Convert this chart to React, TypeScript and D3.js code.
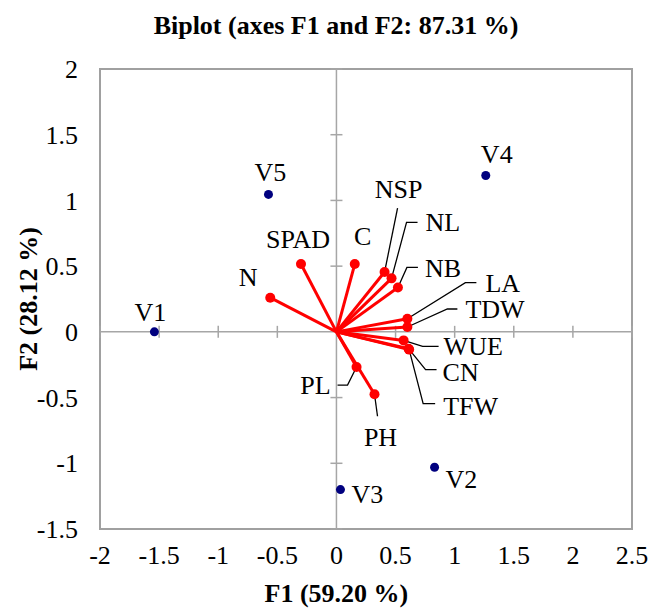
import * as d3 from "d3";

const W = 649;
const H = 608;
const FONT = "'Liberation Serif', 'Times New Roman', serif";

// observations (navy dots)
const obsNames = ["V1", "V2", "V3", "V4", "V5"];
const obsF1 = [-1.54, 0.83, 0.034, 1.263, -0.575];
const obsF2 = [0.0, -1.03, -1.2, 1.19, 1.046];
// label offset (px) from the dot: [dx, dy, anchor]
const obsLabel: [number, number, string][] = [
  [-4, -20, "middle"],
  [11, 12, "start"],
  [11, 4, "start"],
  [11, -22, "middle"],
  [2, -22, "middle"],
];

// variables (red vectors)
const varNames = ["N", "SPAD", "C", "NSP", "NL", "NB", "LA", "TDW", "WUE", "CN", "TFW", "PL", "PH"];
const varF1 = [-0.56, -0.3, 0.155, 0.407, 0.466, 0.52, 0.6, 0.6, 0.568, 0.61, 0.615, 0.17, 0.322];
const varF2 = [0.26, 0.516, 0.516, 0.455, 0.407, 0.338, 0.1, 0.037, -0.065, -0.128, -0.135, -0.268, -0.475];
// leader line points as px offsets from the dot, then label offset + anchor
const varLeader: [number, number][][] = [
  [],
  [],
  [],
  [[13, -64]],
  [[15, -56], [26, -56]],
  [[9, -20], [20, -20]],
  [[58, -36], [69, -36]],
  [[40, -18], [50, -18]],
  [[19, 6], [35, 6]],
  [[17, 21], [28, 21]],
  [[14, 54], [26, 54]],
  [[-9, 18], [-19, 18]],
  [[3, 22]],
];
const varLabel: [number, number, string][] = [
  [-22, -21, "middle"],
  [-3, -25, "middle"],
  [8, -28, "middle"],
  [14, -83, "middle"],
  [34, -56, "start"],
  [27, -20, "start"],
  [78, -36, "start"],
  [58, -18, "start"],
  [40, 5, "start"],
  [34, 23, "start"],
  [34, 56, "start"],
  [-26, 18, "end"],
  [6, 43, "middle"],
];

const xTicks = [-2, -1.5, -1, -0.5, 0, 0.5, 1, 1.5, 2, 2.5];
const yTicks = [-1.5, -1, -0.5, 0, 0.5, 1, 1.5, 2];

export default function App() {
  const x = d3.scaleLinear().domain([-2, 2.5]).range([100, 632]);
  const y = d3.scaleLinear().domain([-1.5, 2]).range([529, 69]);
  const x0 = x(0);
  const y0 = y(0);
  const axisColor = "#a6a6a6";

  return (
    <svg width={W} height={H} style={{ position: "absolute", left: 0, top: 0, background: "#fff" }} fontFamily={FONT}>
      <rect width={W} height={H} fill="#fff" />
      <text x={336} y={34} textAnchor="middle" fontSize={26} fontWeight="bold">
        Biplot (axes F1 and F2: 87.31 %)
      </text>

      {/* frame */}
      <rect x={x(-2)} y={y(2)} width={x(2.5) - x(-2)} height={y(-1.5) - y(2)} fill="none" stroke="#a0a0a0" strokeWidth={2} />

      {/* zero axes */}
      <line x1={x(-2)} x2={x(2.5)} y1={y0} y2={y0} stroke={axisColor} strokeWidth={1.5} />
      <line x1={x0} x2={x0} y1={y(2)} y2={y(-1.5)} stroke={axisColor} strokeWidth={1.5} />
      {xTicks.filter((t) => t !== 0).map((t) => (
        <line key={"xt" + t} x1={x(t)} x2={x(t)} y1={y0 - 6} y2={y0 + 6} stroke={axisColor} strokeWidth={1.5} />
      ))}
      {yTicks.filter((t) => t !== 0).map((t) => (
        <line key={"yt" + t} x1={x0 - 6} x2={x0 + 6} y1={y(t)} y2={y(t)} stroke={axisColor} strokeWidth={1.5} />
      ))}

      {/* tick labels */}
      {xTicks.map((t) => (
        <text key={"xl" + t} x={x(t)} y={564} textAnchor="middle" fontSize={26}>
          {t}
        </text>
      ))}
      {yTicks.map((t) => (
        <text key={"yl" + t} x={78} y={y(t)} dy="0.35em" textAnchor="end" fontSize={26}>
          {t}
        </text>
      ))}

      {/* axis titles */}
      <text x={x0} y={602} textAnchor="middle" fontSize={26} fontWeight="bold">
        F1 (59.20 %)
      </text>
      <text transform={`translate(37,${y(0.25)}) rotate(-90)`} textAnchor="middle" fontSize={26} fontWeight="bold">
        F2 (28.12 %)
      </text>

      {/* variable vectors */}
      {varNames.map((n, i) => (
        <line key={"v" + n} x1={x0} y1={y0} x2={x(varF1[i])} y2={y(varF2[i])} stroke="#ff0000" strokeWidth={3} />
      ))}
      {varNames.map((n, i) => {
        const px = x(varF1[i]);
        const py = y(varF2[i]);
        const pts = [[px, py], ...varLeader[i].map(([dx, dy]) => [px + dx, py + dy])];
        const [lx, ly, anchor] = varLabel[i];
        return (
          <g key={"vl" + n}>
            {pts.length > 1 && (
              <polyline points={pts.map((p) => p.join(",")).join(" ")} fill="none" stroke="#000" strokeWidth={1.3} />
            )}
            <circle cx={px} cy={py} r={5} fill="#ff0000" />
            <text x={px + lx} y={py + ly} dy="0.35em" textAnchor={anchor} fontSize={26}>
              {n}
            </text>
          </g>
        );
      })}

      {/* observations */}
      {obsNames.map((n, i) => {
        const px = x(obsF1[i]);
        const py = y(obsF2[i]);
        const [lx, ly, anchor] = obsLabel[i];
        return (
          <g key={"o" + n}>
            <circle cx={px} cy={py} r={4.5} fill="#00007f" />
            <text x={px + lx} y={py + ly} dy="0.35em" textAnchor={anchor} fontSize={26}>
              {n}
            </text>
          </g>
        );
      })}
    </svg>
  );
}
